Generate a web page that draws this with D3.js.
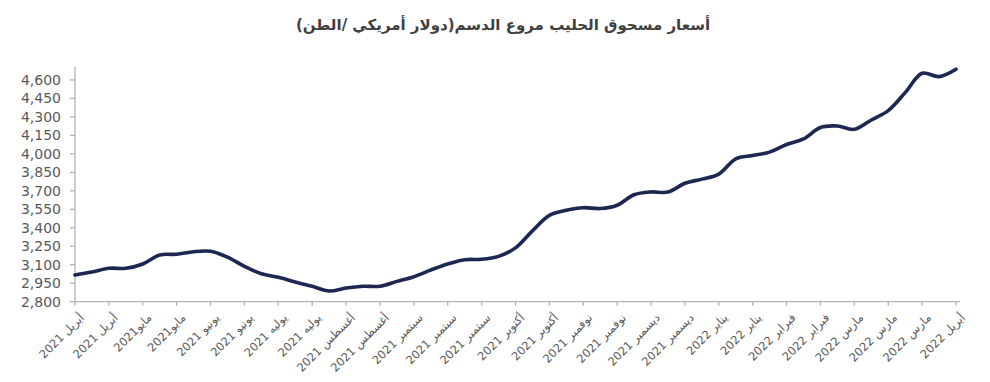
<!DOCTYPE html>
<html>
<head>
<meta charset="utf-8">
<script src="https://cdn.jsdelivr.net/npm/d3@7"></script>
<style>
  body { margin: 0; background: #fff; }
  svg { display: block; }
</style>
</head>
<body>
<svg id="chart" width="990" height="382"></svg>
<script>
const chartTitle = "أسعار مسحوق الحليب مروع الدسم(دولار أمريكي /الطن)";

const tickLabels = [
  "أبريل 2021", "أبريل 2021", "مايو2021", "مايو2021", "يونيو 2021", "يونيو 2021",
  "يوليه 2021", "يوليه 2021", "أغسطس 2021", "أغسطس 2021", "سبتمبر 2021", "سبتمبر 2021",
  "سبتمبر 2021", "أكتوبر 2021", "أكتوبر 2021", "نوفمبر 2021", "نوفمبر 2021", "ديسمبر 2021",
  "ديسمبر 2021", "يناير 2022", "يناير 2022", "فبراير 2022", "فبراير 2022", "مارس 2022",
  "مارس 2022", "مارس 2022", "أبريل 2022"
];

// weekly prices (USD / ton), one label every two weeks
const prices = [
  3017, 3041, 3071, 3071, 3106, 3179, 3185, 3206, 3209, 3162,
  3087, 3027, 2998, 2960, 2925, 2887, 2911, 2925, 2926, 2965,
  3003, 3057, 3106, 3141, 3144, 3168, 3237, 3375, 3501, 3542,
  3563, 3556, 3583, 3668, 3691, 3690, 3761, 3795, 3836, 3960,
  3987, 4014, 4076, 4121, 4214, 4226, 4199, 4275, 4351, 4497,
  4654, 4627, 4687
];

const yTickValues = [2800, 2950, 3100, 3250, 3400, 3550, 3700, 3850, 4000, 4150, 4300, 4450, 4600];
const yMin = 2800, yMax = 4705;

const svg = d3.select("#chart");
const axisColor = "#b3b3b3";
const textColor = "#595959";

const x = d3.scaleLinear().domain([0, prices.length - 1]).range([75, 956]);
const y = d3.scaleLinear().domain([yMin, yMax]).range([301.7, 67]);

// Title
svg.append("text")
  .attr("x", 503)
  .attr("y", 30)
  .attr("text-anchor", "middle")
  .style("direction", "rtl")
  .attr("font-family", "DejaVu Sans, sans-serif")
  .attr("font-weight", "bold")
  .attr("font-size", 15)
  .attr("fill", "#404040")
  .text(chartTitle);

// Y axis
const yAxis = svg.append("g").attr("transform", `translate(${x(0)},0)`);
yAxis.append("line")
  .attr("x1", 0).attr("x2", 0)
  .attr("y1", y(yMin)).attr("y2", y(yMax))
  .attr("stroke", axisColor).attr("stroke-width", 1.3);
yAxis.selectAll("g.tick").data(yTickValues).join("g")
  .attr("class", "tick")
  .attr("transform", d => `translate(0,${y(d)})`)
  .each(function(d) {
    const g = d3.select(this);
    g.append("line").attr("x1", -5).attr("x2", 0).attr("stroke", axisColor).attr("stroke-width", 1.3);
    g.append("text")
      .attr("x", -14)
      .attr("dy", "0.36em")
      .attr("text-anchor", "end")
      .attr("font-family", "DejaVu Sans, sans-serif")
      .attr("font-size", 14)
      .attr("fill", textColor)
      .text(d3.format(",")(d));
  });

// X axis
const xAxisY = y(yMin);
const xAxis = svg.append("g").attr("transform", `translate(0,${xAxisY})`);
xAxis.append("line")
  .attr("x1", x(0)).attr("x2", x(prices.length - 1) + 4)
  .attr("stroke", axisColor).attr("stroke-width", 1.3);
const tickIdx = tickLabels.map((_, i) => i * 2);
xAxis.selectAll("g.tick").data(tickIdx).join("g")
  .attr("class", "tick")
  .attr("transform", d => `translate(${x(d)},0)`)
  .each(function(d, i) {
    const g = d3.select(this);
    g.append("line").attr("y1", 0).attr("y2", 4).attr("stroke", axisColor).attr("stroke-width", 1.3);
    g.append("text")
      .attr("transform", "translate(4,11) rotate(-45)")
      .attr("text-anchor", "end")
      .attr("dy", "0.7em")
      .attr("font-family", "DejaVu Sans, sans-serif")
      .attr("font-size", 11.5)
      .attr("fill", textColor)
      .text(tickLabels[i]);
  });

// Line
const line = d3.line()
  .x((d, i) => x(i))
  .y(d => y(d))
  .curve(d3.curveCatmullRom.alpha(0.5));

svg.append("path")
  .datum(prices)
  .attr("d", line)
  .attr("fill", "none")
  .attr("stroke", "#1d2852")
  .attr("stroke-width", 3.6)
  .attr("stroke-linejoin", "round")
  .attr("stroke-linecap", "round");
</script>
</body>
</html>
